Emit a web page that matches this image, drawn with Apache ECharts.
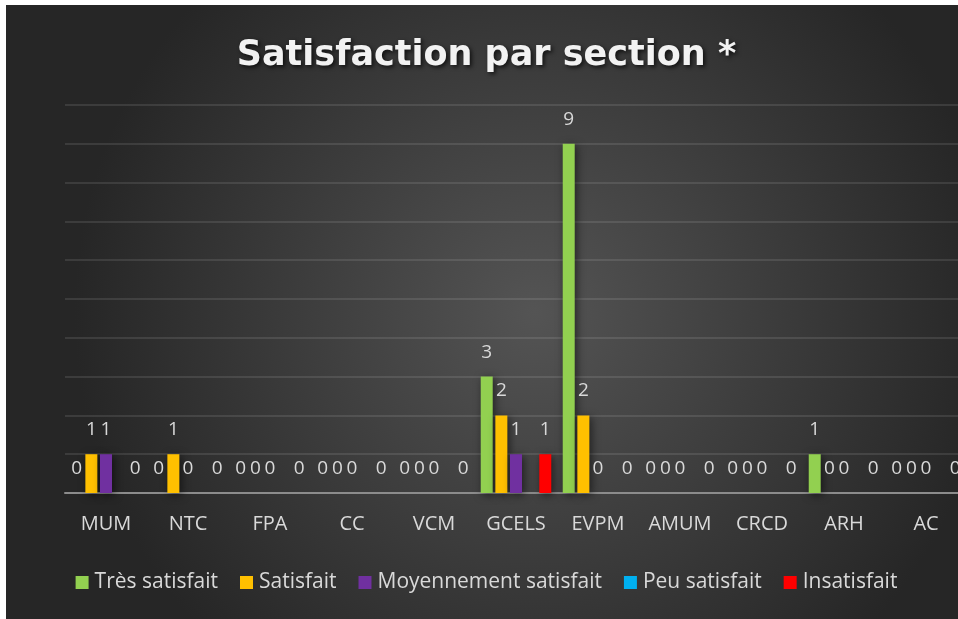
<!DOCTYPE html>
<html>
<head>
<meta charset="utf-8">
<script src="https://cdn.jsdelivr.net/npm/echarts@6/dist/echarts.min.js"></script>
<style>
html,body{margin:0;padding:0;background:#ffffff;overflow:hidden;width:958px;height:619px;}
#chart{position:absolute;left:6px;top:5px;width:961px;height:614px;}
</style>
</head>
<body>
<div id="chart"></div>
<script>
var categories = ['MUM','NTC','FPA','CC','VCM','GCELS','EVPM','AMUM','CRCD','ARH','AC'];
var tresSatisfait = [0,0,0,0,0,3,9,0,0,1,0];
var satisfait = [1,1,0,0,0,2,2,0,0,0,0];
var moyennementSatisfait = [1,0,0,0,0,1,0,0,0,0,0];
var peuSatisfait = [null,null,null,null,null,null,null,null,null,null,null];
var insatisfait = [0,0,0,0,0,1,0,0,0,0,0];
var seriesNames = ['Très satisfait','Satisfait','Moyennement satisfait','Peu satisfait','Insatisfait'];
var seriesData = [tresSatisfait, satisfait, moyennementSatisfait, peuSatisfait, insatisfait];
var colors = ['#92d050','#ffc000','#7030a0','#00b0f0','#ff0000'];
var FONT = '"Open Sans", "Noto Sans", sans-serif';

var chart = echarts.init(document.getElementById('chart'));
var series = seriesNames.map(function(name, i){
  return {
    name: name,
    type: 'bar',
    data: seriesData[i],
    barWidth: 12,
    barGap: '22%',
    itemStyle: {
      color: colors[i],
      shadowBlur: 8,
      shadowColor: 'rgba(0,0,0,0.55)',
      shadowOffsetX: 2,
      shadowOffsetY: 2
    },
    label: {
      show: true,
      position: 'top',
      distance: 15,
      color: '#d9d9d9',
      fontFamily: FONT,
      fontSize: 19
    }
  };
});

chart.setOption({
  backgroundColor: {
    type: 'radial', x: 0.55, y: 0.5, r: 0.75,
    colorStops: [{offset: 0, color: '#545454'}, {offset: 1, color: '#262626'}]
  },
  animation: false,
  color: colors,
  title: {
    text: 'Satisfaction par section *',
    left: 'center',
    top: 28,
    textStyle: {
      color: '#f2f2f2',
      fontFamily: '"DejaVu Sans", sans-serif',
      fontWeight: 'bold',
      fontSize: 35,
      textShadowColor: 'rgba(0,0,0,0.7)',
      textShadowBlur: 4,
      textShadowOffsetX: 2,
      textShadowOffsetY: 2
    }
  },
  legend: {
    bottom: 21,
    left: 'center',
    itemWidth: 13,
    itemHeight: 13,
    itemGap: 22,
    icon: 'rect',
    textStyle: {color: '#d9d9d9', fontFamily: FONT, fontSize: 21, padding: [0,0,0,1]}
  },
  grid: {left: 59, right: 0, top: 100, bottom: 126},
  xAxis: {
    type: 'category',
    data: categories,
    axisLine: {lineStyle: {color: '#8c8c8c', width: 2}},
    axisTick: {show: false},
    axisLabel: {interval: 0, color: '#d9d9d9', fontFamily: FONT, fontSize: 20, margin: 21}
  },
  yAxis: {
    type: 'value',
    min: 0, max: 10, interval: 1,
    axisLabel: {show: false},
    axisLine: {show: false},
    axisTick: {show: false},
    splitLine: {lineStyle: {color: 'rgba(255,255,255,0.1)', width: 2}}
  },
  series: series
});
</script>
</body>
</html>
